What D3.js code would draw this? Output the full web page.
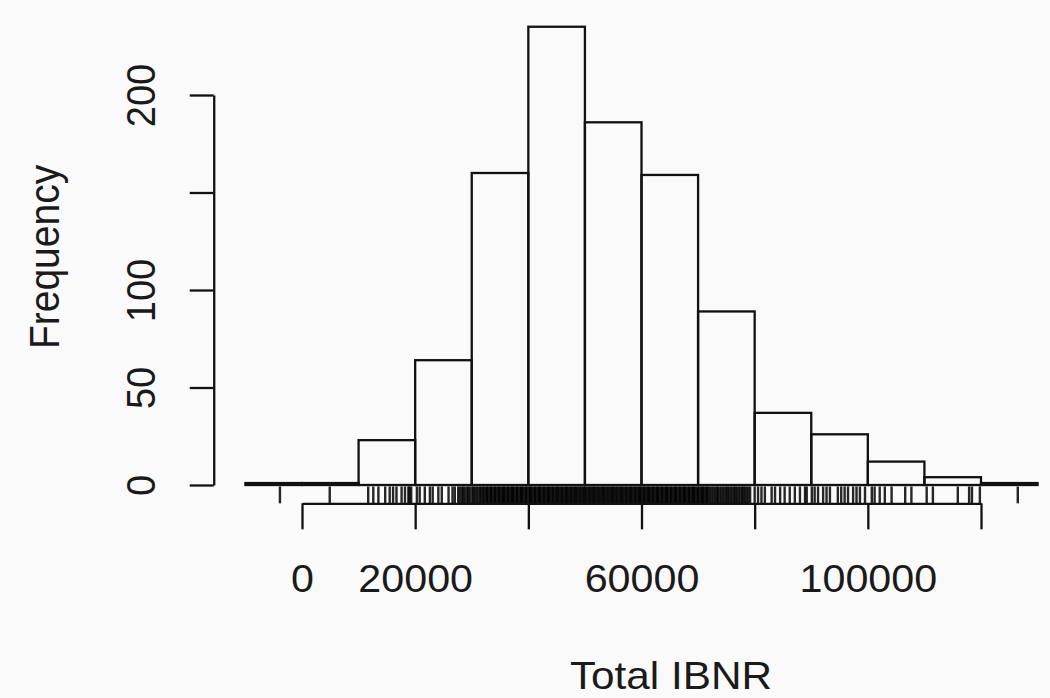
<!DOCTYPE html>
<html>
<head>
<meta charset="utf-8">
<script src="https://cdn.jsdelivr.net/npm/d3@7"></script>
<style>
  html, body { margin: 0; padding: 0; background: #fafafa; }
  svg { display: block; }
  text { font-family: "Liberation Sans", Arial, Helvetica, sans-serif; fill: #1a1a1a; }
</style>
</head>
<body>
<svg id="chart" width="1050" height="698"></svg>
<script>
// Histogram of simulated total IBNR, 10000-wide bins
const binEdges = [-10000, 0, 10000, 20000, 30000, 40000, 50000, 60000, 70000,
                  80000, 90000, 100000, 110000, 120000, 130000];
const binCounts = [1, 1, 23, 64, 160, 235, 186, 159, 89, 37, 26, 12, 4, 1];

const xTicks = [0, 20000, 40000, 60000, 80000, 100000, 120000];
const xTickLabels = [0, 20000, 60000, 100000];
const yTicks = [0, 50, 100, 150, 200];
const yTickLabels = [0, 50, 100, 200];

// Individual simulated totals shown as a rug under the bars
const rugLeft = [-3900, 4900, 11700, 12600, 13500, 14700, 15500, 16100, 16700, 17600,
  18200, 18800, 19000, 19300, 20300, 20800, 21700, 22600, 23100, 24100, 24700, 25900,
  26600, 27000];
const rugCore = [27600, 27900, 28300, 28500, 28800, 29200, 29400, 29700, 30100, 30300,
  30600, 30900, 31200, 31500, 31700, 32000, 32200, 32500, 32700, 32900, 33200, 33400,
  33600, 33900, 34100, 34300, 34600, 34800, 35000, 35300, 35500, 35700, 35900, 36200,
  36400, 36600, 36900, 37100, 37300, 37500, 37800, 38000, 38200, 38500, 38700, 38900,
  39100, 39400, 39600, 39800, 40100, 40300, 40500, 40700, 41000, 41200, 41400, 41700,
  41900, 42100, 42300, 42600, 42800, 43000, 43300, 43500, 43700, 43900, 44200, 44400,
  44600, 44900, 45100, 45300, 45500, 45800, 46000, 46200, 46500, 46700, 46900, 47100,
  47400, 47600, 47800, 48100, 48300, 48500, 48700, 49000, 49200, 49400, 49700, 49900,
  50100, 50300, 50600, 50800, 51000, 51300, 51500, 51700, 51900, 52200, 52400, 52600,
  52900, 53100, 53300, 53500, 53800, 54000, 54200, 54500, 54700, 54900, 55100, 55400,
  55600, 55800, 56100, 56300, 56500, 56700, 57000, 57200, 57400, 57700, 57900, 58100,
  58300, 58600, 58800, 59000, 59300, 59500, 59700, 59900, 60200, 60400, 60600, 60900,
  61100, 61300, 61500, 61800, 62000, 62200, 62500, 62700, 62900, 63100, 63400, 63600,
  63800, 64100, 64300, 64500, 64700, 65000, 65200, 65400, 65700, 65900, 66100, 66300,
  66600, 66800, 67000, 67300, 67500, 67700, 67900, 68200, 68400, 68600, 68900, 69100,
  69300, 69500, 69800, 70000, 70200, 70500, 70700, 70900, 71100, 71400, 71600, 71800,
  72100, 72400, 72700, 73000, 73300, 73500, 73800, 74100, 74400, 74700, 75000, 75200,
  75500, 75800, 76100, 76400, 76600, 76900, 77200, 77500, 77800, 78000, 78300, 78600,
  78900, 79200];
const rugRight = [80000, 80600, 81200, 81800, 83000, 83600, 84500, 85300, 86200, 87100,
  88000, 88900, 89200, 90100, 90600, 91200, 92100, 92700, 93300, 94700, 95300, 95900,
  96500, 97400, 98000, 98600, 99500, 100700, 101200, 102100, 103000, 104200, 106600,
  107700, 110400, 111500, 115900, 117900, 118400, 119800, 126500];
const rugValues = rugLeft.concat(rugCore, rugRight);

const svg = d3.select("#chart");

const x = d3.scaleLinear().domain([0, 120000]).range([302, 981]);
const y = d3.scaleLinear().domain([0, 200]).range([485, 95]);

// Plot region with the usual 4% padding around the data range
const xMin = binEdges[0], xMax = binEdges[binEdges.length - 1];
const yMax = d3.max(binCounts);
const plotLeft = x(xMin - 0.04 * (xMax - xMin));
const plotBottom = y(-0.04 * yMax);
const plotTop = y(yMax * 1.04);

// Text is drawn slightly wide
const stretch = 1.085;

// Bars
const bins = binCounts.map((c, i) => ({ x0: binEdges[i], x1: binEdges[i + 1], count: c }));
svg.append("g")
  .selectAll("rect")
  .data(bins)
  .join("rect")
  .attr("x", d => x(d.x0))
  .attr("width", d => x(d.x1) - x(d.x0))
  .attr("y", d => y(d.count))
  .attr("height", d => y(0) - y(d.count))
  .attr("fill", "none")
  .attr("stroke", "#111")
  .attr("stroke-width", 2.3);

// Rug
const rugLen = 0.03 * (plotBottom - plotTop);
svg.append("g")
  .selectAll("line")
  .data(rugValues)
  .join("line")
  .attr("x1", d => x(d)).attr("x2", d => x(d))
  .attr("y1", plotBottom).attr("y2", plotBottom - rugLen - 2)
  .attr("stroke", "#000")
  .attr("stroke-width", 2.4)
  .attr("stroke-opacity", 0.85);

// X axis
const xAxis = d3.axisBottom(x)
  .tickValues(xTicks)
  .tickSize(26)
  .tickSizeOuter(0)
  .tickFormat(d => xTickLabels.includes(d) ? String(d) : "");
const gx = svg.append("g").attr("transform", `translate(0,${plotBottom})`).call(xAxis);
gx.selectAll("path, line").attr("stroke", "#111").attr("stroke-width", 2.3);
gx.selectAll("text")
  .attr("y", null)
  .attr("dy", null)
  .attr("transform", `translate(0,89) scale(${stretch},1)`)
  .style("font-size", "38px")
  .attr("fill", "#1a1a1a");

// Y axis
const yAxis = d3.axisLeft(y)
  .tickValues(yTicks)
  .tickSize(24)
  .tickSizeOuter(0)
  .tickFormat(d => yTickLabels.includes(d) ? String(d) : "");
const gy = svg.append("g").attr("transform", `translate(${plotLeft},0)`).call(yAxis);
gy.selectAll("path, line").attr("stroke", "#111").attr("stroke-width", 2.3);
gy.selectAll("text")
  .attr("x", null)
  .attr("dy", null)
  .attr("text-anchor", "middle")
  .attr("transform", `translate(${155 - plotLeft},0) rotate(-90) scale(1,${stretch})`)
  .style("font-size", "38px")
  .attr("fill", "#1a1a1a");

// Axis titles
svg.append("text")
  .attr("transform", `translate(671,689) scale(${stretch},1)`)
  .attr("text-anchor", "middle")
  .style("font-size", "39px")
  .text("Total IBNR");

svg.append("text")
  .attr("transform", `translate(59,257) rotate(-90) scale(1,${stretch})`)
  .attr("text-anchor", "middle")
  .style("font-size", "39px")
  .text("Frequency");
</script>
</body>
</html>
